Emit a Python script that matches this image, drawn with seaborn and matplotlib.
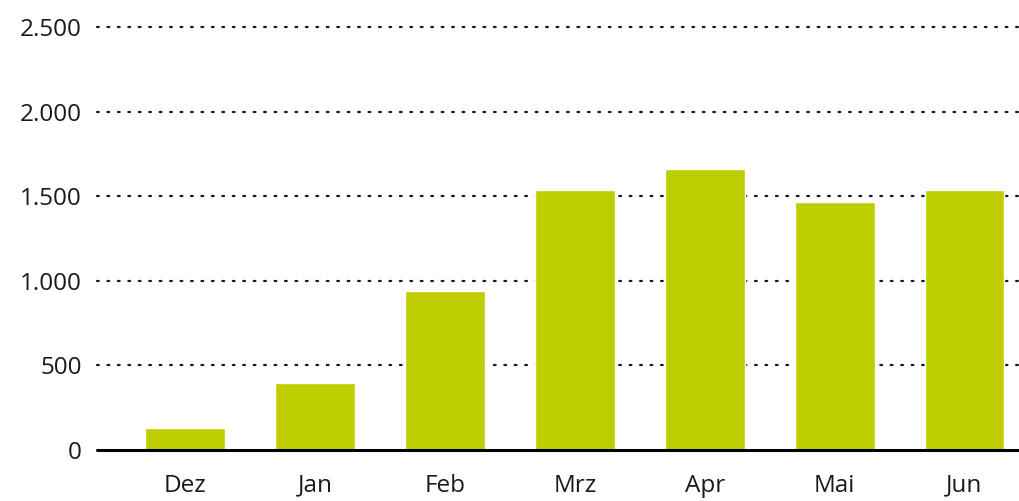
import matplotlib
matplotlib.use("Agg")
import matplotlib.pyplot as plt
import seaborn as sns
import pandas as pd

months = ["Dez", "Jan", "Feb", "Mrz", "Apr", "Mai", "Jun"]
values = [130, 395, 940, 1535, 1660, 1465, 1535]
yticks = [0, 500, 1000, 1500, 2000, 2500]
ytick_labels = ["0", "500", "1.000", "1.500", "2.000", "2.500"]

sns.set_style("white")
plt.rcParams['font.family'] = ['Open Sans', 'DejaVu Sans']

df = pd.DataFrame({"month": months, "value": values})

fig = plt.figure(figsize=(10.19, 5.01), dpi=100)
ax = fig.add_axes([97 / 1019, 51 / 501, 922 / 1019, 423 / 501])

sns.barplot(data=df, x="month", y="value", color="#bfce00", width=0.615,
            saturation=1, ax=ax, zorder=3)

ax.set_ylim(0, 2500)
ax.set_xlim(-0.68, 6.42)
ax.set_yticks(yticks)
ax.set_yticklabels(ytick_labels)
ax.set_xlabel("")
ax.set_ylabel("")

for y in yticks[1:]:
    ax.axhline(y, color="#1a1a1a", lw=1.6, linestyle=(0, (0.8, 3.9)),
               dash_capstyle="round", zorder=1, clip_on=False)
ax.axhline(0, color="black", lw=2.2, zorder=4, clip_on=False)

for s in ax.spines.values():
    s.set_visible(False)

ax.tick_params(axis="y", length=0, pad=11, labelsize=17.5, labelcolor="#1a1a1a")
ax.tick_params(axis="x", length=0, pad=17, labelsize=17.5, labelcolor="#1a1a1a")

fig.savefig("out.png", dpi=100)
